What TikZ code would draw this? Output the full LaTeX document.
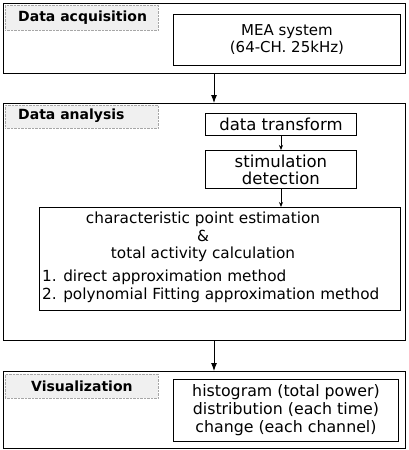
\documentclass[tikz,border=0pt]{standalone}
\usepackage{fontspec}
\setmainfont{DejaVu Sans}
\usetikzlibrary{arrows.meta}
\tikzset{
  panel/.style={draw=black, line width=1.1pt, anchor=north west, inner sep=0pt},
  tag/.style={draw=gray!70, densely dotted, fill=gray!12, anchor=north west, inner sep=0pt},
  tagtxt/.style={inner sep=0pt, anchor=west, font=\fontsize{14}{16}\selectfont\bfseries},
  box/.style={draw=black, line width=0.9pt, anchor=north west, inner sep=0pt, align=center, font=\fontsize{15}{17}\selectfont},
  txt/.style={inner sep=0pt, font=\fontsize{15.3}{17.5}\selectfont},
  arr/.style={draw=black, line width=0.9pt, -{Latex[length=8pt,width=6pt]}},
  sarr/.style={draw=black, line width=0.8pt, -{Stealth[length=5pt,width=4pt]}}
}
\begin{document}
\begin{tikzpicture}[x=1pt,y=-1pt]
\useasboundingbox (0,0) rectangle (408,450);
% panels
\node[panel, minimum width=402pt, minimum height=70pt] (p1) at (3,3) {};
\node[panel, minimum width=402pt, minimum height=237pt] (p2) at (3,103) {};
\node[panel, minimum width=402pt, minimum height=77pt] (p3) at (3,371) {};
% tags
\node[tag, minimum width=153pt, minimum height=25pt] (t1) at (5,5) {};
\node[tagtxt] (t1x) at (18,17.5) {Data acquisition};
\node[tag, minimum width=153pt, minimum height=23pt] (t2) at (5,105) {};
\node[tagtxt] (t2x) at (18,116) {Data analysis};
\node[tag, minimum width=153pt, minimum height=24pt] (t3) at (5,374) {};
\node[tagtxt] (t3x) at (31,386) {Visualization};
% panel 1
\node[box, minimum width=227pt, minimum height=51pt] (mea) at (173,14) {MEA system\\(64-CH. 25kHz)};
% panel 2
\node[box, minimum width=151pt, minimum height=22pt, font=\fontsize{16.5}{17}\selectfont] (dt) at (205,113) {data transform};
\node[box, minimum width=151pt, minimum height=38pt, font=\fontsize{16.5}{17}\selectfont] (sd) at (205,150) {stimulation\\detection};
\node[box, minimum width=361pt, minimum height=103pt] (big) at (39,207) {};
\node[txt, align=center, anchor=north] (bt) at (203,212) {characteristic point estimation\\\&\\total activity calculation};
\node[txt, align=left, anchor=north west] (bl) at (42,270) {1. direct approximation method\\2. polynomial Fitting approximation method};
% panel 3
\node[box, minimum width=225pt, minimum height=62pt, font=\fontsize{15.8}{18}\selectfont] (vis) at (173,379) {histogram (total power)\\distribution (each time)\\change (each channel)};
% arrows
\coordinate (ax) at (214,0);
\coordinate (bx) at (281,0);
\draw[arr] (p1.south -| ax) -- (p2.north -| ax);
\draw[arr] (p2.south -| ax) -- (p3.north -| ax);
\draw[sarr] (dt.south -| bx) -- (sd.north -| bx);
\draw[sarr] (sd.south -| bx) -- (big.north -| bx);
\end{tikzpicture}
\end{document}
